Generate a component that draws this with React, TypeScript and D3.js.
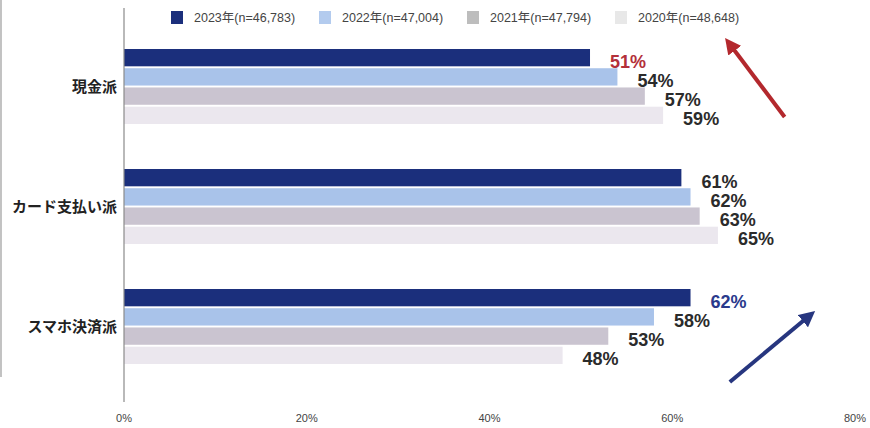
import { useEffect, useRef } from 'react';
import * as d3 from 'd3';

// categories and series
const categories = ['現金派', 'カード支払い派', 'スマホ決済派'];
const years = ['2023', '2022', '2021', '2020'];
const legendLabels = ['2023年(n=46,783)', '2022年(n=47,004)', '2021年(n=47,794)', '2020年(n=48,648)'];

// share of respondents (%) per category, ordered by years above
const cashValues = [51, 54, 57, 59];
const cardValues = [61, 62, 63, 65];
const mobileValues = [62, 58, 53, 48];

const xTicks = [0, 20, 40, 60, 80];

const barColors = ['#1b2f7c', '#a9c3ea', '#cac4d0', '#ebe7ee'];
const legendColors = ['#1b2f7c', '#b3cbee', '#bdbdbd', '#e8e8e8'];

export default function App() {
  const svgRef = useRef<SVGSVGElement>(null);
  const width = 870;
  const height = 428;

  useEffect(() => {
    if (!svgRef.current) return;
    const svg = d3.select(svgRef.current);
    svg.selectAll('*').remove();

    const rows = categories.map((c, i) => ({
      category: c,
      values: [cashValues, cardValues, mobileValues][i],
    }));

    const x = d3.scaleLinear().domain([0, 80]).range([124, 855]);

    const y0 = d3
      .scaleBand()
      .domain(categories)
      .range([26.5, 386.5])
      .paddingInner(0.375)
      .paddingOuter(0.1875);

    const y1 = d3.scaleBand().domain(years).range([0, y0.bandwidth()]).paddingInner(0.1);

    // left frame line
    svg
      .append('line')
      .attr('x1', 1)
      .attr('x2', 1)
      .attr('y1', 0)
      .attr('y2', 377)
      .style('stroke', '#9a9a9a')
      .style('stroke-width', 1.2);

    // legend
    const legend = svg
      .selectAll('.legend-item')
      .data(years)
      .enter()
      .append('g')
      .attr('class', 'legend-item')
      .attr('transform', (d, i) => `translate(${171 + i * 148}, 0)`);

    legend
      .append('rect')
      .attr('y', 11)
      .attr('width', 12)
      .attr('height', 13)
      .style('fill', (d, i) => legendColors[i]);

    legend
      .append('text')
      .attr('x', 23)
      .attr('y', 22)
      .style('font-family', '"Liberation Sans", Arial, "Noto Sans CJK JP", sans-serif')
      .style('font-size', '12.5px')
      .style('fill', '#444')
      .text((d, i) => legendLabels[i]);

    // bars
    const groups = svg
      .selectAll('.group')
      .data(rows)
      .enter()
      .append('g')
      .attr('class', 'group')
      .attr('transform', (d) => `translate(0, ${y0(d.category)})`);

    groups
      .selectAll('rect')
      .data((d) => d.values.map((v, i) => ({ year: years[i], value: v, i })))
      .enter()
      .append('rect')
      .attr('x', x(0))
      .attr('y', (d) => y1(d.year)!)
      .attr('width', (d) => x(d.value) - x(0))
      .attr('height', y1.bandwidth())
      .style('fill', (d) => barColors[d.i]);

    // value labels
    groups
      .selectAll('.value-label')
      .data((d, gi) => d.values.map((v, i) => ({ year: years[i], value: v, i, gi })))
      .enter()
      .append('text')
      .attr('class', 'value-label')
      .attr('x', (d) => x(d.value) + 20)
      .attr('y', (d) => y1(d.year)! + y1.bandwidth() / 2 + 10)
      .style('font-family', '"Liberation Sans", Arial, sans-serif')
      .style('font-weight', 'bold')
      .style('font-size', '18px')
      .style('fill', (d) => {
        if (d.gi === 0 && d.i === 0) return '#b3303a';
        if (d.gi === 2 && d.i === 0) return '#2a3a8c';
        return '#2b2b2b';
      })
      .text((d) => `${d.value}%`);

    // category labels
    svg
      .selectAll('.cat-label')
      .data(categories)
      .enter()
      .append('text')
      .attr('class', 'cat-label')
      .attr('x', 117)
      .attr('y', (d) => y0(d)! + y0.bandwidth() / 2 + 5)
      .style('text-anchor', 'end')
      .style('font-family', '"Noto Sans CJK JP", sans-serif')
      .style('font-weight', 'bold')
      .style('font-size', '15px')
      .style('fill', '#222')
      .text((d) => d);

    // vertical axis line
    svg
      .append('line')
      .attr('x1', x(0))
      .attr('x2', x(0))
      .attr('y1', 8)
      .attr('y2', 402)
      .style('stroke', '#8a8a8a')
      .style('stroke-width', 1.2);

    // x tick labels
    svg
      .selectAll('.tick-label')
      .data(xTicks)
      .enter()
      .append('text')
      .attr('class', 'tick-label')
      .attr('x', (d) => x(d))
      .attr('y', 422)
      .style('text-anchor', 'middle')
      .style('font-family', '"Liberation Sans Narrow", "Liberation Sans", Arial, sans-serif')
      .style('font-size', '11px')
      .style('fill', '#444')
      .text((d) => `${d}%`);

    // trend arrows (annotations, in % / px space)
    const defs = svg.append('defs');
    const arrows = [
      { from: [72.3, 117], to: [66.2, 43], color: '#b3282d', id: 'ah-red' },
      { from: [66.3, 382], to: [75.1, 315], color: '#27367f', id: 'ah-blue' },
    ];
    arrows.forEach((a) => {
      defs
        .append('marker')
        .attr('id', a.id)
        .attr('viewBox', '0 0 10 10')
        .attr('refX', 6)
        .attr('refY', 5)
        .attr('markerWidth', 4)
        .attr('markerHeight', 4)
        .attr('orient', 'auto')
        .append('path')
        .attr('d', 'M0,0 L10,5 L0,10 z')
        .style('fill', a.color);
      svg
        .append('line')
        .attr('x1', x(a.from[0]))
        .attr('y1', a.from[1])
        .attr('x2', x(a.to[0]))
        .attr('y2', a.to[1])
        .style('stroke', a.color)
        .style('stroke-width', 4)
        .attr('marker-end', `url(#${a.id})`);
    });
  }, []);

  return (
    <svg
      ref={svgRef}
      width={width}
      height={height}
      style={{ position: 'absolute', left: 0, top: 0, background: '#fff' }}
    />
  );
}
